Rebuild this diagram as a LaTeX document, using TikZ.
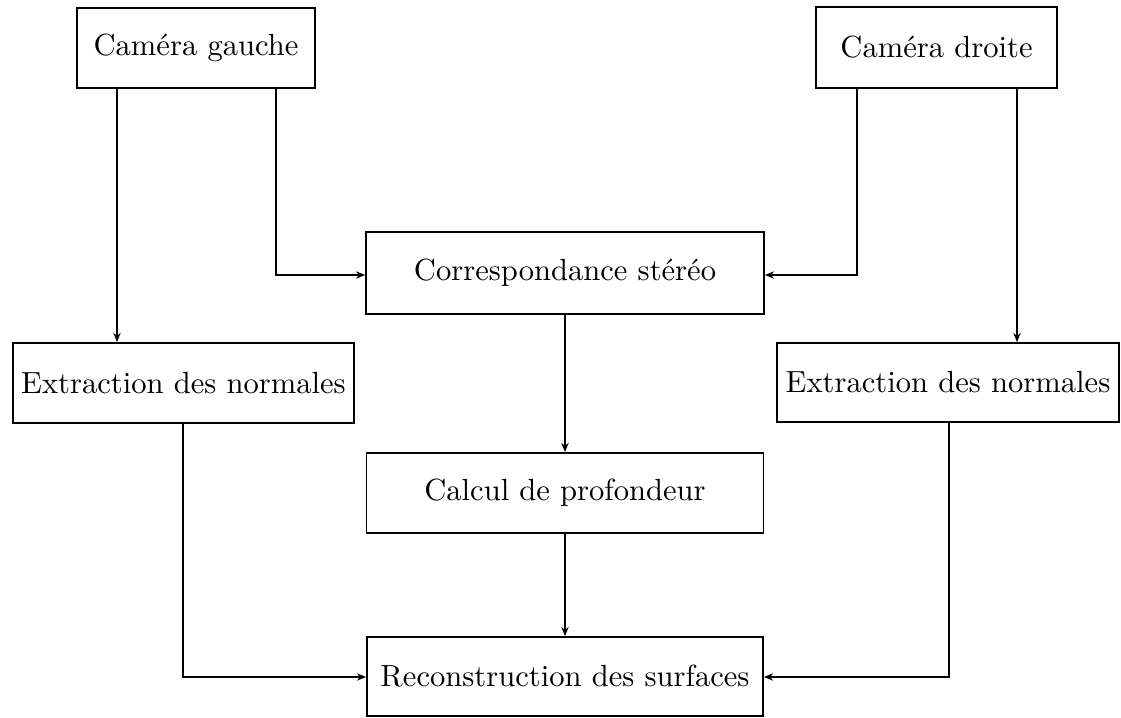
\documentclass[tikz,border=0pt]{standalone}
\usetikzlibrary{arrows.meta}
\begin{document}
\begin{tikzpicture}[x=0.327pt,y=-0.327pt,
  box/.style={draw, line width=0.6pt, inner sep=0pt, font=\fontsize{10}{12}\selectfont},
  arr/.style={line width=0.45pt, -{Stealth[length=3pt,width=2.4pt]}}]
\useasboundingbox (0,0) rectangle (1121,717);

% processing blocks
\node[box, minimum width=77.8pt,  minimum height=26.2pt] (cg) at (196,48)    {Caméra gauche};
\node[box, minimum width=78.8pt,  minimum height=26.5pt] (cd) at (936.5,47.5) {Caméra droite};
\node[box, minimum width=130.1pt, minimum height=26.8pt] (cs) at (565,273)   {Correspondance stéréo};
\node[box, minimum width=111.5pt, minimum height=26.2pt] (el) at (183.5,383) {Extraction des normales};
\node[box, minimum width=111.8pt, minimum height=25.8pt] (er) at (948,382.5) {Extraction des normales};
\node[box, minimum width=129.8pt, minimum height=26.2pt] (cp) at (565,493)   {Calcul de profondeur};
\node[box, minimum width=129.5pt, minimum height=25.8pt] (rc) at (565,676.5) {Reconstruction des surfaces};

% columns and rows used by the connectors
\coordinate (c1) at (117,0);
\coordinate (c2) at (276,0);
\coordinate (c3) at (857,0);
\coordinate (c4) at (1017,0);
\coordinate (c5) at (183,0);
\coordinate (c6) at (949,0);
\coordinate (r1) at (0,275);
\coordinate (r2) at (0,677);

% connectors
\draw[arr] (cg.south -| c1) -- (el.north -| c1);
\draw[arr] (cg.south -| c2) |- (cs.west |- r1);
\draw[arr] (cd.south -| c3) |- (cs.east |- r1);
\draw[arr] (cd.south -| c4) -- (er.north -| c4);
\draw[arr] (cs.south) -- (cp.north);
\draw[arr] (cp.south) -- (rc.north);
\draw[arr] (el.south -| c5) |- (rc.west |- r2);
\draw[arr] (er.south -| c6) |- (rc.east |- r2);
\end{tikzpicture}
\end{document}
